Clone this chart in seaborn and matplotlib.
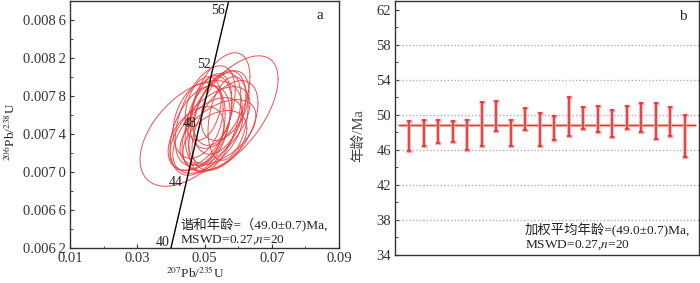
import numpy as np
import pandas as pd
import matplotlib
matplotlib.use("Agg")
import matplotlib.pyplot as plt
import seaborn as sns
from matplotlib.ticker import FixedLocator, FixedFormatter, MultipleLocator

# ---------------- data ----------------
# error ellipses (207Pb/235U, 206Pb/238U): centre, half-extent x, half-extent y, correlation
ell_x = [0.0576, 0.0460, 0.0546, 0.0516, 0.0531, 0.0502, 0.0546, 0.0487, 0.0510, 0.0561,
         0.0481, 0.0522, 0.0540, 0.0502, 0.0570, 0.0475, 0.0531, 0.0496, 0.0561, 0.0516]
ell_y = [0.007615, 0.007406, 0.007752, 0.007563, 0.007521, 0.007490, 0.007626, 0.007437, 0.007385, 0.007490,
         0.007542, 0.007647, 0.007416, 0.007594, 0.007563, 0.007353, 0.007332, 0.007668, 0.007699, 0.007458]
ell_sx = [0.01428, 0.01517, 0.00892, 0.00654, 0.00773, 0.00595, 0.00773, 0.00892, 0.01041, 0.00981,
          0.00744, 0.00595, 0.01130, 0.00892, 0.00595, 0.00833, 0.00952, 0.00535, 0.00714, 0.01190]
ell_sy = [0.000608, 0.000556, 0.000503, 0.000472, 0.000524, 0.000419, 0.000440, 0.000472, 0.000398, 0.000472,
          0.000398, 0.000367, 0.000346, 0.000524, 0.000440, 0.000335, 0.000315, 0.000335, 0.000367, 0.000440]
ell_rho = [0.6, 0.5, 0.5, 0.4, 0.5, 0.3, 0.4, 0.4, 0.5, 0.5,
           0.3, 0.2, 0.5, 0.5, 0.3, 0.4, 0.4, 0.3, 0.4, 0.6]

# concordia curve points (age in Ma)
conc_age = [39, 40, 44, 48, 52, 56, 57]
conc_x = [0.03916, 0.04018, 0.04429, 0.04841, 0.05255, 0.05670, 0.05774]
conc_y = [0.006068, 0.006224, 0.006849, 0.007474, 0.008099, 0.008725, 0.008881]
conc_labels = [40, 44, 48, 52, 56]

x_ticks = [0.01, 0.03, 0.05, 0.07, 0.09]
x_ticklabels = ["0.01", "0.03", "0.05", "0.07", "0.09"]
y_ticks = [0.0062, 0.0066, 0.0070, 0.0074, 0.0078, 0.0082, 0.0086]
y_ticklabels = ["0.006\u20092", "0.006\u20096", "0.007\u20090", "0.007\u20094",
                "0.007\u20098", "0.008\u20092", "0.008\u20096"]

# weighted mean plot
spot_no = list(range(1, 21))
spot_age = [47.6, 47.9, 48.1, 48.1, 47.7, 49.0, 49.85, 47.95, 49.5, 48.35,
            48.5, 49.8, 49.65, 49.5, 49.0, 49.7, 49.75, 49.35, 49.2, 47.6]
spot_err = [1.7, 1.5, 1.35, 1.25, 1.75, 2.5, 1.7, 1.45, 1.25, 1.85,
            1.4, 2.2, 1.25, 1.5, 1.5, 1.35, 1.65, 2.05, 1.65, 2.4]
mean_age = 48.8
b_ticks = [34, 38, 42, 46, 50, 54, 58, 62]
b_grid = [38, 42, 46, 50, 54, 58]

text_a1 = "谐和年龄=（49.0±0.7)Ma,"
text_a2 = "MSWD=0.27,$n$=20"
text_b1 = "加权平均年龄=(49.0±0.7)Ma,"
text_b2 = "MSWD=0.27,$n$=20"

# ---------------- style ----------------
sns.set_theme(style="ticks")
plt.rcParams["font.family"] = ["Liberation Serif", "Noto Sans CJK SC"]
plt.rcParams["mathtext.fontset"] = "stix"
plt.rcParams["axes.edgecolor"] = "#333333"
plt.rcParams["axes.linewidth"] = 1.0
plt.rcParams["xtick.color"] = "#333333"
plt.rcParams["ytick.color"] = "#333333"
plt.rcParams["text.color"] = "#222222"

fig = plt.figure(figsize=(7.0, 2.83), dpi=100)
axa = fig.add_axes([70 / 700, 1 - 248 / 283, 269 / 700, 247 / 283])
axb = fig.add_axes([395 / 700, 1 - 255 / 283, 304 / 700, 254 / 283])

red_line = "#ef3b3b"

# ---------------- panel a ----------------
t = np.linspace(0, 2 * np.pi, 300)
for cx, cy, sx, sy, r in zip(ell_x, ell_y, ell_sx, ell_sy, ell_rho):
    ex = cx + sx * np.cos(t)
    ey = cy + sy * (r * np.cos(t) + np.sqrt(1 - r * r) * np.sin(t))
    axa.plot(ex, ey, color=red_line, lw=0.7, alpha=0.9)

conc_df = pd.DataFrame({"x": conc_x, "y": conc_y})
sns.lineplot(data=conc_df, x="x", y="y", sort=False, color="black", lw=1.0, ax=axa)
for age in conc_labels:
    i = conc_age.index(age)
    dy = -2.0 if age == 56 else 2.5
    axa.annotate(str(age), (conc_x[i], conc_y[i]), xytext=(-1.5, dy),
                 textcoords="offset points", ha="right", va="center", fontsize=10)

axa.set_xlim(0.01, 0.09)
axa.set_ylim(0.0062, 0.0088)
axa.xaxis.set_major_locator(FixedLocator(x_ticks))
axa.xaxis.set_major_formatter(FixedFormatter(x_ticklabels))
axa.yaxis.set_major_locator(FixedLocator(y_ticks))
axa.yaxis.set_major_formatter(FixedFormatter(y_ticklabels))
axa.xaxis.set_minor_locator(MultipleLocator(0.01))
axa.yaxis.set_minor_locator(MultipleLocator(0.0002))
axa.tick_params(which="major", direction="in", length=3, width=0.8, labelsize=10.5, pad=3)
axa.tick_params(which="minor", direction="in", length=1.8, width=0.6)
axa.set_xlabel(r"$^{207}$Pb/$^{235}$U", fontsize=9.5)
axa.set_ylabel(r"$^{206}$Pb/$^{238}$U", fontsize=9.5)
axa.xaxis.set_label_coords(0.465, -0.068)
axa.yaxis.set_label_coords(-0.195, 0.47)
axa.text(0.93, 0.94, "a", transform=axa.transAxes, fontsize=11, ha="center", va="center")
axa.text(0.409, 0.093, text_a1, transform=axa.transAxes, fontsize=9.6, ha="left", va="center")
axa.text(0.409, 0.033, text_a2, transform=axa.transAxes, fontsize=9.6, ha="left", va="center")
for s in axa.spines.values():
    s.set_visible(True)

# ---------------- panel b ----------------
for g in b_grid:
    axb.axhline(g, color="#b0b0b0", lw=1.0, ls=(0, (1, 1.5)), zorder=1)

mean_df = pd.DataFrame({"x": [0.28, 20.7], "y": [mean_age, mean_age]})
sns.lineplot(data=mean_df, x="x", y="y", color="#f8c0c0", lw=2.4, ax=axb, zorder=2)
sns.lineplot(data=mean_df, x="x", y="y", color="#e83535", lw=1.0, ax=axb, zorder=3)

axb.errorbar(spot_no, spot_age, yerr=spot_err, fmt="none", ecolor="#f5a8a8",
             elinewidth=2.6, capsize=1.9, capthick=2.4, zorder=4)
axb.errorbar(spot_no, spot_age, yerr=spot_err, fmt="none", ecolor="#e02a2a",
             elinewidth=1.1, capsize=1.5, capthick=1.1, zorder=5)

axb.set_xlim(0, 21)
axb.set_ylim(34, 63)
axb.yaxis.set_major_locator(FixedLocator(b_ticks))
axb.yaxis.set_minor_locator(MultipleLocator(2))
axb.set_xticks([])
axb.tick_params(axis="y", which="major", direction="in", length=3, width=0.8, labelsize=10.5, pad=3)
axb.tick_params(axis="y", which="minor", direction="in", length=1.8, width=0.6)
axb.set_xlabel("")
axb.set_ylabel("年龄/Ma", fontsize=10.5, color="#444444")
axb.yaxis.set_label_coords(-0.098, 0.47)
axb.text(0.947, 0.94, "b", transform=axb.transAxes, fontsize=11, ha="center", va="center")
axb.text(0.428, 0.098, text_b1, transform=axb.transAxes, fontsize=9.6, ha="left", va="center")
axb.text(0.428, 0.039, text_b2, transform=axb.transAxes, fontsize=9.6, ha="left", va="center")
for s in axb.spines.values():
    s.set_visible(True)

fig.savefig("out.png", dpi=100)
